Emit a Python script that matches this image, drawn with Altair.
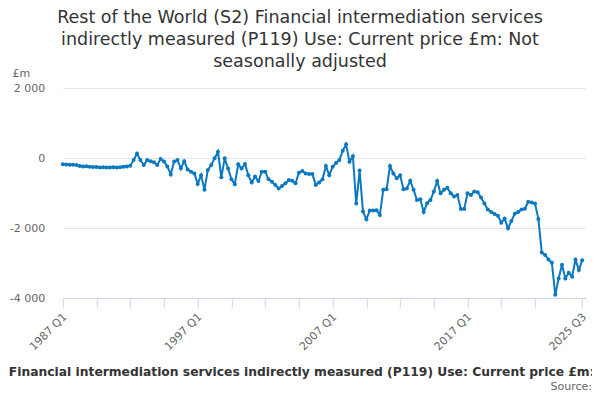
import altair as alt
import pandas as pd

# Quarterly categories 1987 Q1 .. 2025 Q3
quarters = [f"{y} Q{q}" for y in range(1987, 2026) for q in range(1, 5)][:155]

values = [
    -180, -185, -190, -195, -200, -230, -240, -235, -250, -255,
    -260, -270, -265, -270, -270, -265, -270, -265, -250, -240,
    -220, -60, 130, -60, -200, -60, -90, -120, -200, -30,
    -100, -240, -470, -100, -60, -300, -90, -330, -390, -440,
    -740, -490, -910, -340, -200, -10, 180, -550, -10, -300,
    -610, -750, -180, -300, -170, -490, -700, -530, -660, -390,
    -390, -610, -680, -770, -870, -800, -720, -630, -650, -720,
    -420, -370, -440, -460, -460, -770, -700, -610, -230, -490,
    -250, -140, -60, 210, 390, -110, 50, -1300, -360, -1530,
    -1750, -1500, -1500, -1490, -1630, -910, -890, -230, -440, -580,
    -490, -890, -870, -650, -910, -1200, -1180, -1540, -1290, -1200,
    -960, -660, -1010, -910, -850, -1010, -1100, -1060, -1460, -1460,
    -1010, -1060, -960, -980, -1130, -1300, -1470, -1540, -1600, -1650,
    -1850, -1730, -2010, -1800, -1590, -1540, -1470, -1450, -1250, -1270,
    -1300, -1740, -2700, -2770, -2900, -2990, -3910, -3440, -3050, -3440,
    -3280, -3390, -2900, -3200, -2920,
]

tick_index = [0, 10, 20, 30, 40, 50, 60, 70, 80, 90, 100, 110, 120, 130, 140, 154]
label_index = [0, 40, 80, 120, 154]
y_ticks = [-4000, -2000, 0, 2000]

title_lines = [
    "Rest of the World (S2) Financial intermediation services",
    "indirectly measured (P119) Use: Current price £m: Not",
    "seasonally adjusted",
]
caption = ("Rest of the World (S2) Financial intermediation services indirectly "
           "measured (P119) Use: Current price £m: Not seasonally adjusted")
source = "Source:"

df = pd.DataFrame({"i": list(range(len(values))), "quarter": quarters, "value": values})

expr = "''"
for idx in reversed(label_index):
    expr = f"datum.value == {idx} ? '{quarters[idx]}' : " + expr

BLUE = "#0b78c1"

base = alt.Chart(df)

line = base.mark_line(
    color=BLUE, strokeWidth=2,
    point=alt.OverlayMarkDef(filled=True, size=16, color=BLUE),
).encode(
    x=alt.X("i:Q", scale=alt.Scale(domain=[0, 155], nice=False, zero=False),
            axis=alt.Axis(values=tick_index, labelExpr=expr, labelAngle=-45,
                          labelAlign="right", labelBaseline="middle", labelPadding=7,
                          labelOffset=2,
                          labelFontSize=11, labelColor="#666666", tickSize=10,
                          tickColor="#ccd6eb", domainColor="#ccd6eb", grid=False,
                          labelOverlap=False, labelFlush=False, labelBound=False,
                          title=None)),
    y=alt.Y("value:Q", scale=alt.Scale(domain=[-4000, 2000], nice=False),
            axis=alt.Axis(values=y_ticks,
                          labelExpr="(datum.value < 0 ? '-' : '') + replace(format(abs(datum.value), ','), ',', ' ')",
                          labelFontSize=11, labelColor="#666666", labelPadding=18,
                          ticks=False, tickSize=0, domain=False, grid=True,
                          gridColor="#e6e6e6", title="£m", titleAngle=0,
                          titleAlign="left", titleBaseline="middle", titleX=-50.8,
                          titleY=-15, titleFontSize=11, titleFontWeight="normal",
                          titleColor="#666666")),
)

title_mark = alt.Chart(pd.DataFrame({"t": ["\n".join(title_lines)]})).mark_text(
    fontSize=17.5, color="#333333", align="center", baseline="middle",
    lineBreak="\n", lineHeight=22,
).encode(text="t:N", x=alt.value(237.2), y=alt.value(-70))

caption_mark = alt.Chart(pd.DataFrame({"t": [caption]})).mark_text(
    fontSize=12.3, fontWeight="bold", color="#333333", align="center", baseline="middle",
).encode(text="t:N", x=alt.value(245.2), y=alt.value(284))

source_mark = alt.Chart(pd.DataFrame({"t": [source]})).mark_text(
    fontSize=11, color="#666666", align="right", baseline="bottom",
).encode(text="t:N", x=alt.value(529.2), y=alt.value(304))

chart = alt.layer(line, title_mark, caption_mark, source_mark).properties(
    width=522.8, height=210,
    autosize=alt.AutoSizeParams(type="none"),
    padding={"left": 54.8, "top": 80, "right": 6.4, "bottom": 94},
).configure(font="DejaVu Sans").configure_view(stroke=None)

chart.save("out.html", embed_options={"renderer": "svg", "actions": False})
